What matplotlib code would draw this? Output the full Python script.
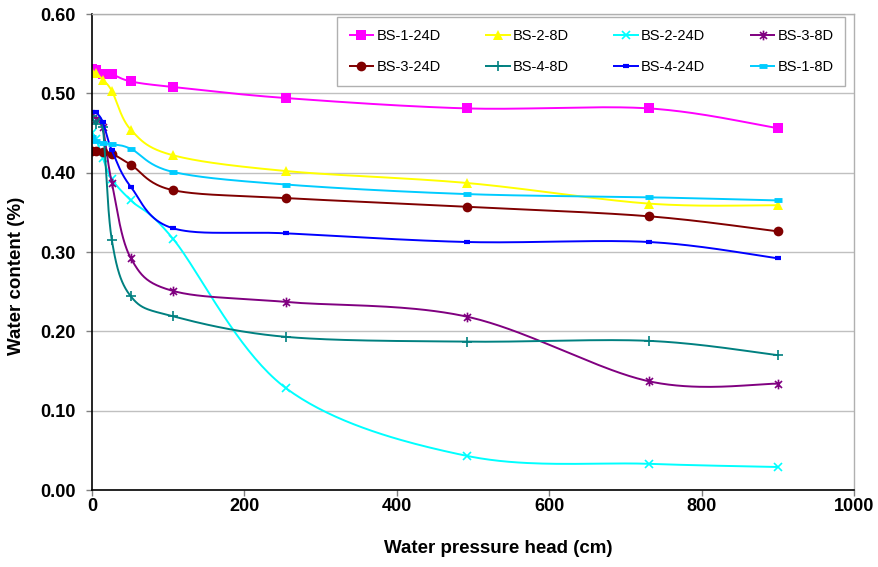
import numpy as np
import matplotlib
matplotlib.use("Agg")
import matplotlib.pyplot as plt
from matplotlib.path import Path

plt.rcParams['font.family'] = ['Liberation Sans', 'DejaVu Sans']

pressure_head = [0, 5, 14, 26, 51, 106, 255, 492, 731, 900]

bs1_24d = [0.531, 0.530, 0.525, 0.524, 0.515, 0.508, 0.494, 0.481, 0.481, 0.456]
bs2_8d = [0.527, 0.526, 0.517, 0.503, 0.454, 0.422, 0.402, 0.387, 0.361, 0.359]
bs2_24d = [0.450, 0.443, 0.419, 0.392, 0.365, 0.317, 0.128, 0.043, 0.033, 0.029]
bs3_8d = [0.473, 0.468, 0.457, 0.387, 0.292, 0.251, 0.237, 0.2185, 0.137, 0.134]
bs3_24d = [0.427, 0.427, 0.426, 0.424, 0.410, 0.378, 0.368, 0.357, 0.345, 0.326]
bs4_8d = [0.471, 0.461, 0.458, 0.315, 0.244, 0.219, 0.193, 0.187, 0.188, 0.170]
bs4_24d = [0.476, 0.476, 0.464, 0.428, 0.382, 0.330, 0.3235, 0.3126, 0.3126, 0.292]
bs1_8d = [0.445, 0.440, 0.437, 0.436, 0.430, 0.401, 0.385, 0.373, 0.369, 0.365]

series_names = ['BS-1-24D', 'BS-2-8D', 'BS-2-24D', 'BS-3-8D',
                'BS-3-24D', 'BS-4-8D', 'BS-4-24D', 'BS-1-8D']

x_ticks = [0, 200, 400, 600, 800, 1000]
y_ticks = [0.0, 0.1, 0.2, 0.3, 0.4, 0.5, 0.6]

star = Path([(0, -1), (0, 1), (-0.72, -0.72), (0.72, 0.72), (-0.72, 0.72), (0.72, -0.72)],
            [Path.MOVETO, Path.LINETO, Path.MOVETO, Path.LINETO, Path.MOVETO, Path.LINETO])

styles = [
    dict(color='#FF00FF', marker='s', ms=6.5, mew=0),
    dict(color='#FFFF00', marker='^', ms=7, mew=0),
    dict(color='#00FFFF', marker='x', ms=6, mew=1.2),
    dict(color='#800080', marker=star, ms=7, mew=1.2),
    dict(color='#800000', marker='o', ms=7, mew=0),
    dict(color='#008080', marker='+', ms=7, mew=1.2),
    dict(color='#0000FF', marker='_', ms=4, mew=3),
    dict(color='#00CCFF', marker='_', ms=6, mew=3.5),
]


def smooth(xs, ys, n=40):
    P = np.column_stack([xs, ys]).astype(float)
    m = len(P)
    Pe = np.vstack([P[0], P, P[-1]])
    pts = [P[0]]
    idx = [0]
    t = np.linspace(0, 1, n + 1)[1:][:, None]
    for i in range(m - 1):
        p0, p1, p2, p3 = Pe[i], Pe[i + 1], Pe[i + 2], Pe[i + 3]
        c1 = p1 + (p2 - p0) / 6.0
        c2 = p2 - (p3 - p1) / 6.0
        seg = ((1 - t) ** 3) * p1 + 3 * ((1 - t) ** 2) * t * c1 + 3 * (1 - t) * t ** 2 * c2 + t ** 3 * p2
        pts.extend(seg)
        idx.append(len(pts) - 1)
    pts = np.array(pts)
    return pts[:, 0], pts[:, 1], idx


fig = plt.figure(figsize=(8.79, 5.67), dpi=100)
ax = fig.add_axes([0.1047, 0.1358, 0.8669, 0.8395])

all_series = [bs1_24d, bs2_8d, bs2_24d, bs3_8d, bs3_24d, bs4_8d, bs4_24d, bs1_8d]
handles = []
for name, ys, st in zip(series_names, all_series, styles):
    sx, sy, idx = smooth(pressure_head, ys)
    h, = ax.plot(sx, sy, color=st['color'], lw=1.4, marker=st['marker'], ms=st['ms'],
                 mew=st['mew'], mfc=st['color'], mec=st['color'], markevery=idx,
                 label=name, solid_capstyle='butt')
    handles.append(h)

ax.set_xlim(0, 1000)
ax.set_ylim(0, 0.6)
ax.set_xticks(x_ticks)
ax.set_yticks(y_ticks)
ax.set_xticklabels([str(v) for v in x_ticks], fontsize=13, fontweight='bold')
ax.set_yticklabels(['%.2f' % v for v in y_ticks], fontsize=13, fontweight='bold')
ax.tick_params(axis='both', direction='out', length=4, width=1, color='#808080')
ax.tick_params(axis='y', pad=8)
ax.tick_params(axis='x', pad=1.5)
ax.yaxis.grid(True, color='#c0c0c0', lw=1)
ax.set_axisbelow(True)
for s in ['top', 'right']:
    ax.spines[s].set_color('#b0b0b0')
    ax.spines[s].set_linewidth(1)
for s in ['left', 'bottom']:
    ax.spines[s].set_color('black')
    ax.spines[s].set_linewidth(1.2)

ax.set_xlabel('Water pressure head (cm)', fontsize=13.5, fontweight='bold')
ax.xaxis.set_label_coords(0.533, -0.106)
ax.set_ylabel('Water content (%)', fontsize=13.5, fontweight='bold')
ax.yaxis.set_label_coords(-0.088, 0.45)

# reorder so that the legend reads row by row
order = [0, 4, 1, 5, 2, 6, 3, 7]
leg = ax.legend([handles[i] for i in order], [series_names[i] for i in order],
                ncol=4, loc='upper left', bbox_to_anchor=(0.3215, 0.853, 0.667, 0.1407),
                mode='expand', fontsize=10.5, frameon=True, fancybox=False,
                edgecolor='#b0b0b0', framealpha=1, numpoints=1, handlelength=1.75,
                handletextpad=0.15, labelspacing=1.2, borderpad=0.8, borderaxespad=0)
leg.get_frame().set_linewidth(1)

fig.savefig('out.png', dpi=100)
